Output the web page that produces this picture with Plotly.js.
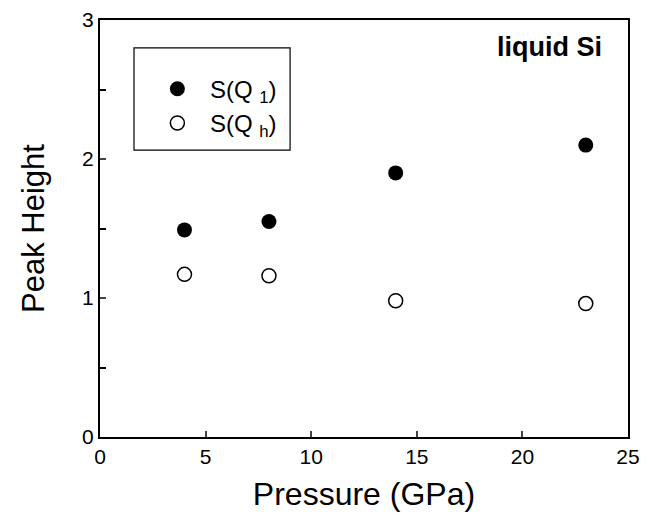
<!DOCTYPE html>
<html><head><meta charset="utf-8">
<script src="https://cdn.plot.ly/plotly-3.0.1.min.js"></script>
<style>body{margin:0;background:#fff}#c{width:648px;height:516px}</style>
</head><body><div id="c"></div>
<script>
const pressure = [4, 8, 14, 23];
const sQ1 = [1.49, 1.55, 1.90, 2.10];
const sQh = [1.17, 1.16, 0.98, 0.96];
const xTickVals = [0, 5, 10, 15, 20, 25];
const yTickVals = [0, 1, 2, 3];

const traces = [
  {x: pressure, y: sQ1, type: 'scatter', mode: 'markers', name: 'S(Q <sub>1</sub>)',
   marker: {symbol: 'circle', size: 15, color: '#000'}},
  {x: pressure, y: sQh, type: 'scatter', mode: 'markers', name: 'S(Q <sub>h</sub>)',
   marker: {symbol: 'circle-open', size: 14, color: '#000', line: {width: 1.5, color: '#000'}}}
];
const layout = {
  width: 648, height: 516,
  margin: {l: 100, r: 20, t: 20, b: 79},
  paper_bgcolor: '#fff', plot_bgcolor: '#fff',
  font: {family: 'Liberation Sans, Arial, sans-serif', color: '#000'},
  showlegend: true,
  legend: {x: 0.085, y: 0.888, xanchor: 'left', yanchor: 'top', bgcolor: 'rgba(0,0,0,0)',
           borderwidth: 0, font: {size: 24}, tracegroupgap: 0, itemwidth: 55},
  shapes: [{type: 'rect', xref: 'paper', yref: 'paper', x0: 0.0644, x1: 0.36, y0: 0.688, y1: 0.933,
            line: {color: '#000', width: 1.2}, fillcolor: 'rgba(0,0,0,0)', layer: 'below'}],
  xaxis: {range: [0, 25], tickvals: xTickVals, ticks: 'inside', ticklen: 6, tickwidth: 2,
          showline: true, linewidth: 2, linecolor: '#000', mirror: true, showgrid: false,
          zeroline: false, tickfont: {size: 21},
          title: {text: 'Pressure (GPa)', font: {size: 32}, standoff: 15}},
  yaxis: {range: [0, 3], tickvals: yTickVals, ticks: 'inside', ticklen: 6, tickwidth: 2,
          minor: {dtick: 0.5, ticks: 'inside', ticklen: 6, tickwidth: 2, tickcolor: '#000', showgrid: false},
          showline: true, linewidth: 2, linecolor: '#000', mirror: true, showgrid: false,
          zeroline: false, tickfont: {size: 21},
          title: {text: 'Peak Height', font: {size: 31}, standoff: 28}},
  annotations: [{text: '<b>liquid Si</b>', xref: 'paper', yref: 'paper', x: 0.955, y: 0.935,
                 xanchor: 'right', yanchor: 'middle', showarrow: false, font: {size: 27}}]
};
Plotly.newPlot('c', traces, layout, {displayModeBar: false});
</script></body></html>
